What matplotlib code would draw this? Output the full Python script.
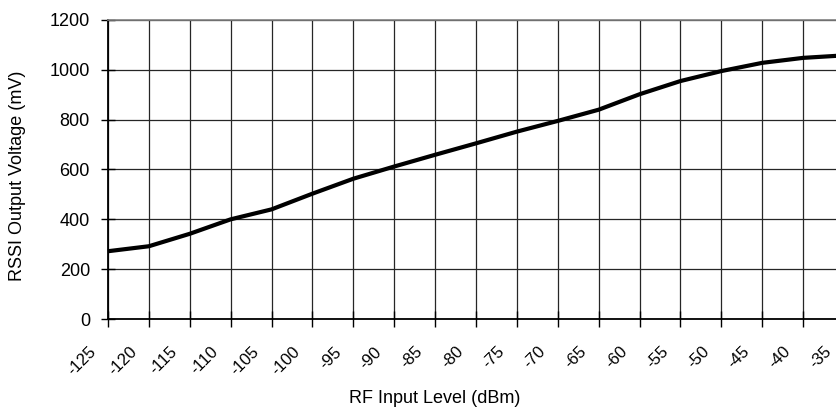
import matplotlib
matplotlib.use("Agg")
import matplotlib.pyplot as plt
from matplotlib.transforms import ScaledTranslation

plt.rcParams['font.family'] = ['Liberation Sans', 'DejaVu Sans']

# Data
rf_input_dbm = [-125, -120, -115, -110, -105, -100, -95, -90, -85, -80,
                -75, -70, -65, -60, -55, -50, -45, -40, -35]
rssi_mv = [272, 292, 342, 400, 440, 503, 563, 612, 659, 705,
           752, 795, 840, 902, 955, 995, 1028, 1048, 1058]
x_tick_labels = [str(v) for v in rf_input_dbm]
y_ticks = [0, 200, 400, 600, 800, 1000, 1200]

W, H = 836, 411
fig = plt.figure(figsize=(W / 100, H / 100), dpi=100)
# plot area: left 108 px, right 844 px (cropped by image edge), top 20 px, bottom 319 px
ax = fig.add_axes([108 / W, (H - 319) / H, (844 - 108) / W, (319 - 20) / H])

ax.plot(rf_input_dbm, rssi_mv, color='black', lw=3.0, solid_joinstyle='round',
        solid_capstyle='butt', zorder=3, clip_on=False)

ax.set_xlim(-125, -35)
ax.set_ylim(0, 1200)
ax.set_xticks(rf_input_dbm)
ax.set_xticklabels(x_tick_labels, rotation=45, ha='right', va='top',
                   rotation_mode='anchor', fontsize=12)
ax.set_yticks(y_ticks)
ax.set_yticklabels([str(v) for v in y_ticks], fontsize=13)

ax.grid(True, color='#262626', lw=0.9)
ax.set_axisbelow(True)

ax.tick_params(axis='y', direction='inout', length=10, width=1.0, pad=8, color='black')
ax.tick_params(axis='x', direction='inout', length=12, width=1.0, pad=12, color='black')

for lab in ax.get_xticklabels():
    lab.set_transform(lab.get_transform() + ScaledTranslation(-20 / 100, 0, fig.dpi_scale_trans))

for side in ['left', 'bottom']:
    ax.spines[side].set_color('black')
    ax.spines[side].set_linewidth(1.3)
ax.spines['top'].set_color('#808080')
ax.spines['top'].set_linewidth(1.2)
ax.spines['right'].set_visible(False)

fig.text(435 / W, 1 - 398 / H, 'RF Input Level (dBm)', ha='center', va='center', fontsize=13)
fig.text(18 / W, 1 - 176 / H, 'RSSI Output Voltage (mV)', ha='center', va='center',
         rotation=90, fontsize=13)

fig.savefig('out.png', dpi=100, facecolor='white')
